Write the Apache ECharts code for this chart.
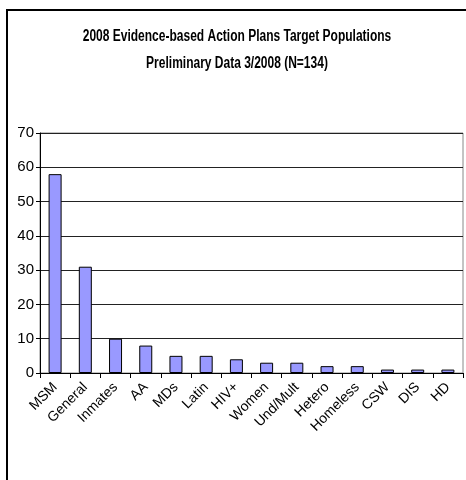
<!DOCTYPE html>
<html>
<head>
<meta charset="utf-8">
<script src="https://cdn.jsdelivr.net/npm/echarts@6/dist/echarts.min.js"></script>
<style>
html,body{margin:0;padding:0;background:#fff;}
#chart{width:466px;height:480px;}
</style>
</head>
<body>
<div id="chart"></div>
<script>
const categories = ["MSM","General","Inmates","AA","MDs","Latin","HIV+","Women","Und/Mult","Hetero","Homeless","CSW","DIS","HD"];
const values = [58,31,10,8,5,5,4,3,3,2,2,1,1,1];
const yTicks = {min:0, max:70, interval:10};
const titleLines = ["2008 Evidence-based Action Plans Target Populations","Preliminary Data 3/2008 (N=134)"];

const FONT = '"Liberation Sans Narrow","Arial Narrow","Liberation Sans",sans-serif';
const chart = echarts.init(document.getElementById('chart'), null, {renderer:'canvas'});
function titleText(txt, y){
  return {type:'text', x:237, y:y, scaleX:0.75, scaleY:1.0, silent:true,
    style:{text:txt, align:'center', verticalAlign:'middle', font:'bold 16px "Liberation Sans", Arial, sans-serif', fill:'#000'}};
}
chart.setOption({
  animation:false,
  backgroundColor:'#fff',
  graphic:[
    {type:'rect', shape:{x:7,y:10,width:600,height:600}, style:{fill:'none',stroke:'#000',lineWidth:2}, silent:true, z:-1},
    titleText(titleLines[0], 37),
    titleText(titleLines[1], 64)
  ],
  grid:{left:40, right:3, top:133, bottom:107, show:true, borderColor:'#888', borderWidth:1, containLabel:false},
  xAxis:{
    type:'category',
    data:categories,
    boundaryGap:true,
    axisLine:{show:true,lineStyle:{color:'#000',width:1}},
    axisTick:{show:true,interval:0,length:5,lineStyle:{color:'#000'}},
    axisLabel:{interval:0, rotate:45, margin:12, fontFamily:FONT, fontSize:14, color:'#000'}
  },
  yAxis:{
    type:'value',
    min:yTicks.min, max:yTicks.max, interval:yTicks.interval,
    axisLine:{show:true,lineStyle:{color:'#000',width:1}},
    axisTick:{show:true,length:4,lineStyle:{color:'#000'}},
    axisLabel:{margin:6, fontFamily:FONT, fontSize:15, color:'#000'},
    splitLine:{show:true,lineStyle:{color:'#222',width:1}}
  },
  series:[{
    type:'bar',
    data:values,
    barWidth:13,
    itemStyle:{color:'#9999FF', borderColor:'#000', borderWidth:1}
  }]
});
</script>
</body>
</html>
